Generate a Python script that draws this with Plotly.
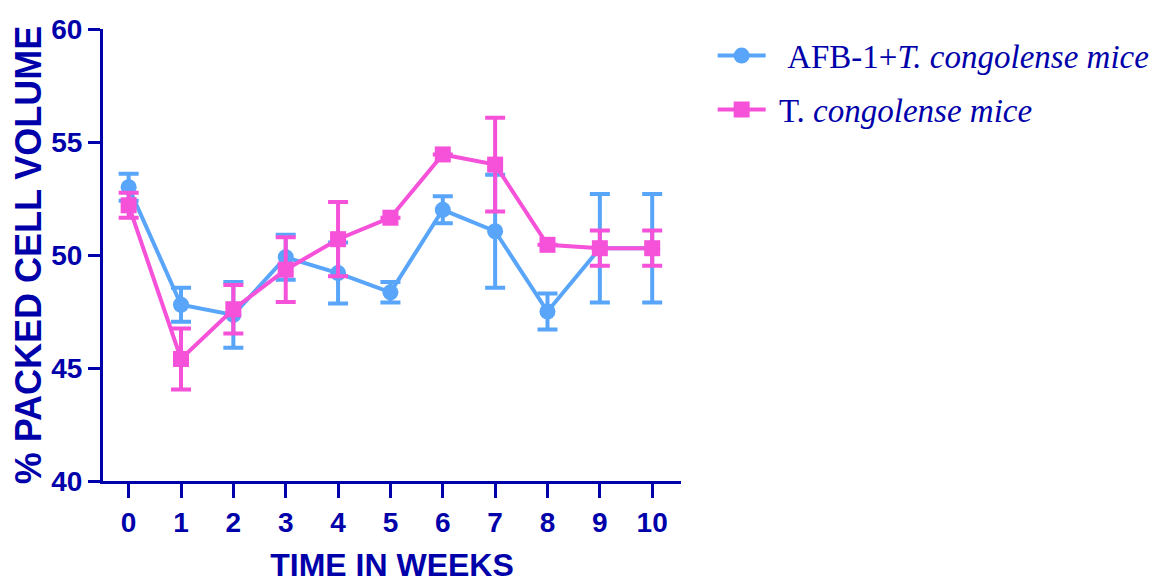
import plotly.graph_objects as go

weeks = [0, 1, 2, 3, 4, 5, 6, 7, 8, 9, 10]
tick_labels = ["0", "1", "2", "3", "4", "5", "6", "7", "8", "9", "10"]

afb_mean = [53.0, 47.8, 47.35, 49.9, 49.2, 48.35, 52.0, 51.05, 47.5, 50.3, 50.3]
afb_err = [0.6, 0.75, 1.45, 1.0, 1.35, 0.45, 0.6, 2.5, 0.8, 2.4, 2.4]

tc_mean = [52.2, 45.4, 47.6, 49.35, 50.7, 51.65, 54.45, 54.0, 50.45, 50.3, 50.3]
tc_err = [0.55, 1.35, 1.07, 1.43, 1.64, None, None, 2.07, None, 0.78, 0.78]

BLUE = "#58A5F9"
PINK = "#F551D9"
INK = "#0000AA"

fig = go.Figure()
fig.add_trace(go.Scatter(
    x=weeks, y=afb_mean, mode="lines+markers",
    name="\u00a0\u00a0AFB-1+<i>T. congolense mice</i>", legendgroup="a",
    line=dict(color=BLUE, width=4),
    marker=dict(symbol="circle", size=16, color=BLUE),
    error_y=dict(type="data", array=afb_err, visible=True, color=BLUE, thickness=4, width=10),
))
fig.add_trace(go.Scatter(
    x=weeks, y=tc_mean, mode="lines+markers",
    name="\u00a0T. <i>congolense mice</i>", legendgroup="b",
    line=dict(color=PINK, width=4),
    marker=dict(symbol="square", size=16, color=PINK),
    error_y=dict(type="data", array=tc_err, visible=True, color=PINK, thickness=4, width=10),
))

# page body adds an 8px offset, so the figure is drawn 8px smaller with margins adjusted
W, H = 1151, 578
fig.update_layout(
    width=W, height=H,
    margin=dict(l=95, r=478, t=21, b=105, autoexpand=False),
    paper_bgcolor="white", plot_bgcolor="white",
    showlegend=True,
    legend=dict(
        xref="container", yref="container", x=0.6122, y=0.966,
        xanchor="left", yanchor="top",
        font=dict(family="Liberation Serif", size=33, color=INK),
        itemwidth=48, tracegroupgap=8,
        bgcolor="rgba(0,0,0,0)",
    ),
)
fig.update_xaxes(
    range=[-0.49, 10.55], tickvals=weeks, ticktext=tick_labels,
    automargin=False,
    showline=True, linecolor=INK, linewidth=3,
    ticks="outside", ticklen=14, tickwidth=3, tickcolor=INK,
    showgrid=False, zeroline=False,
    tickfont=dict(family="Liberation Sans", size=28, color=INK, weight="bold"),
    title=dict(text="TIME IN WEEKS", standoff=18,
               font=dict(family="Liberation Sans", size=32, color=INK, weight="bold")),
)
fig.update_yaxes(
    range=[40, 60], dtick=5, tick0=40,
    automargin=False,
    showline=True, linecolor=INK, linewidth=3,
    ticks="outside", ticklen=12, tickwidth=3, tickcolor=INK,
    showgrid=False, zeroline=False,
    tickfont=dict(family="Liberation Sans", size=28, color=INK, weight="bold"),
    title=dict(text="% PACKED CELL VOLUME", standoff=10,
               font=dict(family="Liberation Sans", size=36, color=INK, weight="bold")),
)

fig.write_html("out.html")
